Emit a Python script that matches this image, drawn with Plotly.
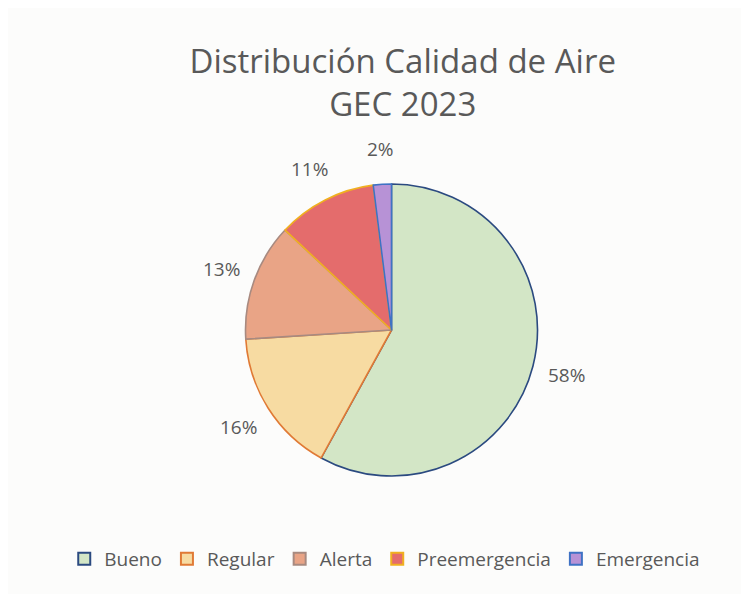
import math
import plotly.graph_objects as go

labels = ["Bueno", "Regular", "Alerta", "Preemergencia", "Emergencia"]
values = [58, 16, 13, 11, 2]
fill_colors = ["#d3e6c6", "#f7dba2", "#e9a486", "#e46c6c", "#b792d6"]
line_colors = ["#2b4a80", "#e07a35", "#a88a80", "#f0b020", "#3f72c4"]

W, H = 749, 594
ML, MR, MT, MB = 18, 0, 176, 126
PW, PH = W - ML - MR, H - MT - MB
R = min(PW, PH) / 2
LABEL_R = R * 1.24

fig = go.Figure(go.Pie(
    labels=labels,
    values=values,
    sort=False,
    direction="clockwise",
    rotation=0,
    textinfo="none",
    hoverinfo="label+percent",
    marker=dict(colors=fill_colors, line=dict(color=line_colors, width=1.6)),
    showlegend=True,
))

# percentage labels placed outside each slice, at the slice's mid angle
total = sum(values)
cum = 0
for v in values:
    mid = (cum + v / 2) / total * 2 * math.pi
    cum += v
    dx = LABEL_R * math.sin(mid)
    dy = LABEL_R * math.cos(mid)
    fig.add_annotation(
        x=0.5 + dx / PW, y=0.5 + dy / PH, xref="paper", yref="paper",
        text=f"{round(v / total * 100)}%", showarrow=False,
        xanchor="center", yanchor="middle",
        font=dict(size=19, color="#595959", family="Open Sans"),
    )

fig.update_layout(
    width=W, height=H,
    margin=dict(l=ML, r=MR, t=MT, b=MB),
    paper_bgcolor="#fcfcfb",
    plot_bgcolor="#fcfcfb",
    title=dict(
        text="Distribución Calidad de Aire<br>GEC 2023",
        x=0.527, xanchor="center",
        y=1 - 65 / H, yanchor="top", yref="container",
        font=dict(size=33, color="#595959", family="Open Sans"),
    ),
    legend=dict(
        orientation="h",
        xref="container", yref="container",
        x=0.503, xanchor="center",
        y=1 - 551 / H, yanchor="middle",
        font=dict(size=19, color="#595959", family="Open Sans"),
        itemsizing="constant",
    ),
)

fig.write_html("out.html")
